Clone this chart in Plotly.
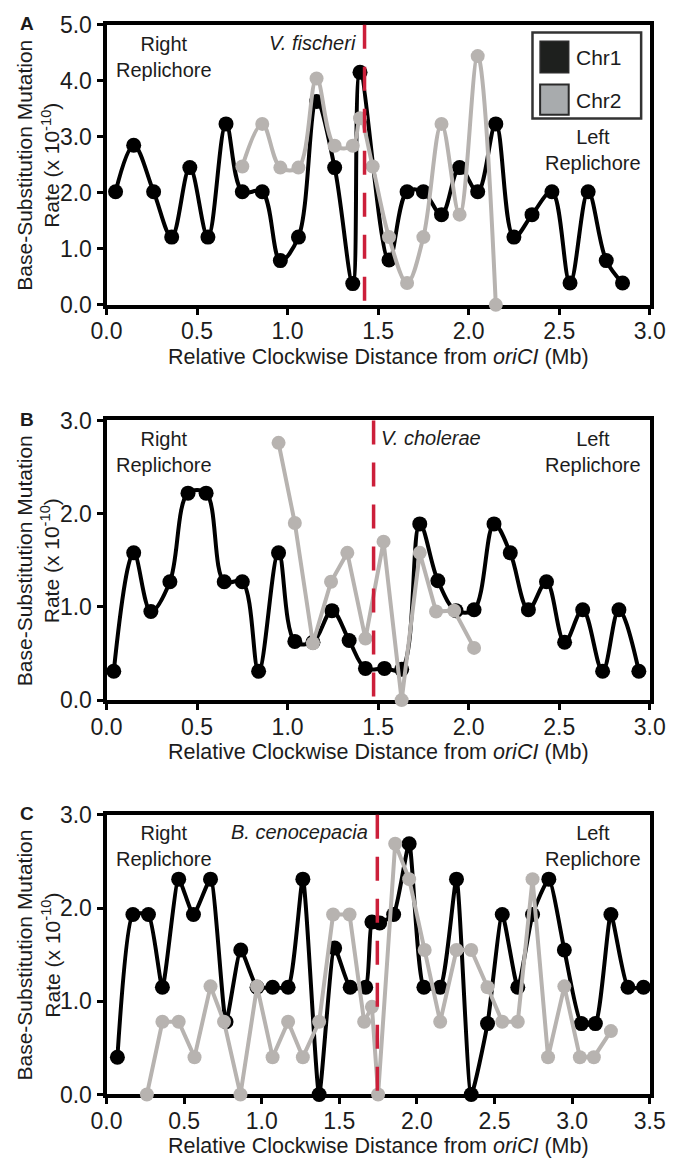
import plotly.graph_objects as go

# ---------------- data ----------------
# Panel A: V. fischeri
a_chr1_x = [0.05, 0.15, 0.26, 0.36, 0.46, 0.56, 0.66, 0.75, 0.86, 0.96, 1.06, 1.16, 1.26, 1.36, 1.40,
            1.56, 1.66, 1.75, 1.85, 1.95, 2.05, 2.15, 2.25, 2.35, 2.46, 2.56, 2.66, 2.76, 2.85]
a_chr1_y = [2.02, 2.85, 2.02, 1.21, 2.45, 1.21, 3.23, 2.02, 2.02, 0.79, 1.21, 3.63, 2.45, 0.38, 4.15,
            0.80, 2.02, 2.02, 1.61, 2.45, 2.02, 3.23, 1.21, 1.61, 2.02, 0.39, 2.02, 0.79, 0.39]
a_chr2_x = [0.75, 0.86, 0.96, 1.06, 1.16, 1.26, 1.36, 1.40, 1.47, 1.56, 1.66, 1.75, 1.85, 1.95, 2.05, 2.15]
a_chr2_y = [2.47, 3.23, 2.45, 2.45, 4.04, 2.84, 2.84, 3.33, 2.47, 1.21, 0.39, 1.21, 3.23, 1.61, 4.44, 0.0]

# Panel B: V. cholerae
b_chr1_x = [0.04, 0.15, 0.245, 0.35, 0.45, 0.55, 0.65, 0.75, 0.84, 0.95, 1.04, 1.14, 1.245, 1.34, 1.43,
            1.535, 1.63, 1.73, 1.83, 1.93, 2.03, 2.14, 2.23, 2.33, 2.43, 2.53, 2.63, 2.74, 2.83, 2.94]
b_chr1_y = [0.31, 1.58, 0.95, 1.27, 2.22, 2.22, 1.27, 1.27, 0.31, 1.58, 0.63, 0.62, 0.96, 0.64, 0.34,
            0.34, 0.33, 1.89, 1.28, 0.96, 0.97, 1.89, 1.58, 0.97, 1.27, 0.62, 0.97, 0.31, 0.97, 0.31]
b_chr2_x = [0.95, 1.04, 1.14, 1.24, 1.33, 1.43, 1.53, 1.63, 1.73, 1.82, 1.92, 2.03]
b_chr2_y = [2.76, 1.90, 0.61, 1.27, 1.58, 0.66, 1.70, 0.0, 1.58, 0.95, 0.96, 0.56]

# Panel C: B. cenocepacia
c_chr1_x = [0.07, 0.17, 0.27, 0.36, 0.465, 0.56, 0.67, 0.77, 0.865, 0.97, 1.07, 1.17, 1.265, 1.37, 1.47,
            1.57, 1.67, 1.71, 1.76, 1.85, 1.95, 2.045, 2.15, 2.255, 2.35, 2.455, 2.55, 2.65, 2.745, 2.85,
            2.95, 3.06, 3.15, 3.25, 3.36, 3.46]
c_chr1_y = [0.40, 1.93, 1.93, 1.15, 2.31, 1.93, 2.31, 0.78, 1.55, 1.15, 1.15, 1.15, 2.31, 0.0, 1.57,
            1.15, 1.15, 1.85, 1.84, 1.93, 2.69, 1.15, 1.15, 2.31, 0.0, 0.76, 1.93, 1.15, 1.93, 2.31,
            1.55, 0.76, 0.76, 1.93, 1.15, 1.15]
c_chr2_x = [0.26, 0.36, 0.465, 0.567, 0.67, 0.757, 0.863, 0.97, 1.07, 1.17, 1.265, 1.37, 1.46, 1.566,
            1.66, 1.71, 1.75, 1.86, 1.95, 2.05, 2.15, 2.255, 2.35, 2.455, 2.55, 2.65, 2.745, 2.845,
            2.95, 3.05, 3.14, 3.25]
c_chr2_y = [0.0, 0.78, 0.78, 0.40, 1.16, 0.78, 0.0, 1.16, 0.40, 0.78, 0.40, 0.78, 1.93, 1.93, 0.78,
            0.94, 0.0, 2.69, 2.31, 1.55, 0.78, 1.55, 1.55, 1.15, 0.78, 0.78, 2.31, 0.40, 1.16, 0.40,
            0.40, 0.68]

panel_letters = ["A", "B", "C"]
species = ["V. fischeri", "V. cholerae", "B. cenocepacia"]
terminus = [1.425, 1.475, 1.745]
x_max = [3.0, 3.0, 3.5]
y_max = [5.0, 3.0, 3.0]
series_names = ["Chr1", "Chr2"]

# ---------------- styling ----------------
W, H = 680, 1172
FONT = "Liberation Sans, Arial, sans-serif"
TEXT = "#1c1c1c"
BLACK = "#000000"
GRAY = "#b7b3b0"
RED = "#cc1f3a"

# plot areas in pixels (left, right, top, bottom)
PX_L, PX_R = 95, 665
tops = [12, 416.7, 820]
bottoms = [298.5, 702.7, 1106]


def fx(px):
    return px / W


def fy(py):
    return 1 - py / H


fig = go.Figure()

data = [
    (a_chr1_x, a_chr1_y, a_chr2_x, a_chr2_y, 1.0, 1.0),
    (b_chr1_x, b_chr1_y, b_chr2_x, b_chr2_y, 1.0, 0.0),
    (c_chr1_x, c_chr1_y, c_chr2_x, c_chr2_y, 0.5, 0.0),
]

annotations = []
shapes = []
for i, (x1, y1, x2, y2, sm1, sm2) in enumerate(data):
    xa = "x" if i == 0 else f"x{i + 1}"
    ya = "y" if i == 0 else f"y{i + 1}"
    fig.add_trace(go.Scatter(
        x=x1, y=y1, xaxis=xa, yaxis=ya, mode="lines+markers", name=series_names[0],
        line=dict(color=BLACK, width=4, shape="spline" if sm1 > 0 else "linear",
                  smoothing=sm1 if sm1 > 0 else None),
        marker=dict(color=BLACK, size=15), cliponaxis=False, showlegend=False))
    fig.add_trace(go.Scatter(
        x=x2, y=y2, xaxis=xa, yaxis=ya, mode="lines+markers", name=series_names[1],
        line=dict(color=GRAY, width=4, shape="spline" if sm2 > 0 else "linear",
                  smoothing=sm2 if sm2 > 0 else None),
        marker=dict(color=GRAY, size=14), cliponaxis=False, showlegend=False))

    axis_common = dict(showline=True, linecolor="black", linewidth=4, mirror=True,
                       ticks="outside", ticklen=6, tickwidth=3, tickcolor="black",
                       showgrid=False, zeroline=False, layer="below traces",
                       tickfont=dict(family=FONT, size=23, color=TEXT), tickformat=".1f")
    xkey = "xaxis" if i == 0 else f"xaxis{i + 1}"
    ykey = "yaxis" if i == 0 else f"yaxis{i + 1}"
    fig.update_layout(**{
        xkey: dict(axis_common, domain=[fx(PX_L), fx(PX_R)], range=[0, x_max[i]], dtick=0.5,
                   anchor=ya, ticklabeloverflow="allow", ticklabelstandoff=-3),
        ykey: dict(axis_common, domain=[fy(bottoms[i]), fy(tops[i])], range=[0, y_max[i]], dtick=1,
                   anchor=xa),
    })

    # terminus dashed line
    shapes.append(dict(type="line", xref=xa, yref=f"{ya} domain", x0=terminus[i], x1=terminus[i],
                       y0=1, y1=0, line=dict(color=RED, width=3.5, dash="24px,18px"), layer="above"))

    t, b = tops[i], bottoms[i]
    # panel letter
    annotations.append(dict(text=f"<b>{panel_letters[i]}</b>", x=fx(2), y=fy(t - 1), xref="paper",
                            yref="paper", xanchor="left", yanchor="middle", showarrow=False,
                            font=dict(family=FONT, size=19, color=TEXT)))
    # y title
    annotations.append(dict(text="Base-Substitution Mutation<br>Rate (x 10<sup>-10</sup>)",
                            x=fx(23), y=fy((t + b) / 2), xref="paper", yref="paper",
                            xanchor="center", yanchor="middle", textangle=-90, showarrow=False,
                            font=dict(family=FONT, size=21, color=TEXT)))
    # x title
    annotations.append(dict(text="Relative Clockwise Distance from <i>oriCI</i> (Mb)",
                            x=fx((PX_L + PX_R) / 2), y=fy(b + 53), xref="paper", yref="paper",
                            xanchor="center", yanchor="middle", showarrow=False,
                            font=dict(family=FONT, size=21.5, color=TEXT)))
    # replichore labels
    right_y = [33, 437, 840][i]
    left_y = [128, 437, 840][i]
    annotations.append(dict(text="Right<br>Replichore", x=fx(155), y=fy(right_y + 12), xref="paper",
                            yref="paper", xanchor="center", yanchor="middle", showarrow=False,
                            align="center", font=dict(family=FONT, size=20, color=TEXT)))
    annotations.append(dict(text="Left<br>Replichore", x=fx(606), y=fy(left_y + 12), xref="paper",
                            yref="paper", xanchor="center", yanchor="middle", showarrow=False,
                            align="center", font=dict(family=FONT, size=20, color=TEXT)))
    # species label
    if i == 1:
        annotations.append(dict(text=f"<i>{species[i]}</i>", x=terminus[i], xshift=5,
                                y=fy(435), xref=xa, yref="paper", xanchor="left", yanchor="middle",
                                showarrow=False, font=dict(family=FONT, size=20, color=TEXT)))
    else:
        sy = [31, 0, 838][i]
        annotations.append(dict(text=f"<i>{species[i]}</i>", x=terminus[i], xshift=-7,
                                y=fy(sy), xref=xa, yref="paper", xanchor="right", yanchor="middle",
                                showarrow=False, font=dict(family=FONT, size=20, color=TEXT)))

# legend (drawn manually in panel A)
shapes.append(dict(type="rect", xref="paper", yref="paper", x0=fx(542), x1=fx(656), y0=fy(108),
                   y1=fy(20), line=dict(color="#333333", width=2.5), fillcolor="white", layer="above"))
shapes.append(dict(type="rect", xref="paper", yref="paper", x0=fx(550), x1=fx(580), y0=fy(61),
                   y1=fy(29), line=dict(color="#2a2a2a", width=1.5), fillcolor="#1e201e", layer="above"))
shapes.append(dict(type="rect", xref="paper", yref="paper", x0=fx(550), x1=fx(580), y0=fy(104),
                   y1=fy(73), line=dict(color="#2a2a2a", width=2), fillcolor="#a8abad", layer="above"))
annotations.append(dict(text=series_names[0], x=fx(586), y=fy(45), xref="paper", yref="paper",
                        xanchor="left", yanchor="middle", showarrow=False,
                        font=dict(family=FONT, size=21, color=TEXT)))
annotations.append(dict(text=series_names[1], x=fx(586), y=fy(89), xref="paper", yref="paper",
                        xanchor="left", yanchor="middle", showarrow=False,
                        font=dict(family=FONT, size=21, color=TEXT)))

fig.update_layout(width=W, height=H, margin=dict(l=0, r=0, t=0, b=0), plot_bgcolor="white",
                  paper_bgcolor="white", showlegend=False, shapes=shapes, annotations=annotations,
                  font=dict(family=FONT, color=TEXT))

fig.write_html("out.html", config={"displayModeBar": False},
               post_script="document.body.style.margin='0';document.body.style.overflow='hidden';")
